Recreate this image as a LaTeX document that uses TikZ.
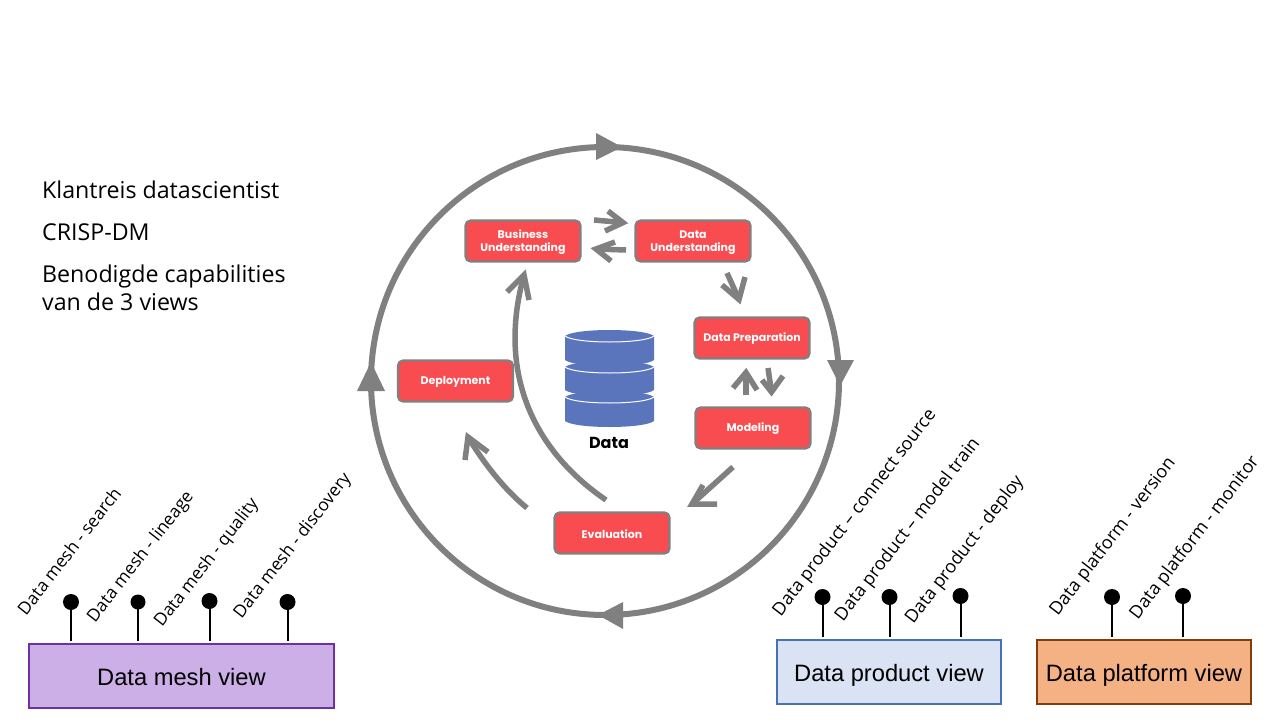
\documentclass[tikz,border=0pt]{standalone}
\usepackage{fontspec}
\setmainfont{Open Sans}
\newfontfamily\arialfont{Liberation Sans}
\newfontfamily\stepfont{Poppins}
\usetikzlibrary{arrows.meta,calc}
\definecolor{ringgray}{HTML}{808080}
\definecolor{redfill}{HTML}{F94C50}
\definecolor{dbblue}{HTML}{5B75BC}
\newcommand{\stepstrut}{\rule{0pt}{10.5pt}}
\tikzset{
  x=1pt,y=-1pt,
  stepbox/.style={draw=ringgray,line width=2.2pt,fill=redfill,rounded corners=5pt,minimum width=115pt,minimum height=41pt,inner sep=0pt,align=center,text=white,font=\stepfont\fontsize{11}{13}\selectfont\bfseries},
  flow/.style={draw=ringgray,line width=5.5pt,miter limit=10},
  ring/.style={draw=ringgray,line width=6pt},
  ringhead/.style={fill=ringgray,draw=none},
  capa/.style={rotate=52,font=\fontsize{17.4}{19}\selectfont,inner sep=0pt},
  capb/.style={rotate=52.5,font=\fontsize{18}{20}\selectfont,inner sep=0pt},
  pindot/.style={circle,fill=black,minimum size=16pt,inner sep=0pt},
  pinline/.style={draw=black,line width=2pt,shorten >=2pt},
  viewbox/.style={line width=1.5pt,inner sep=0pt,text height=20pt,text depth=1pt,font=\arialfont\fontsize{23.7}{28}\selectfont},
  note/.style={anchor=west,inner sep=0pt,align=left,font=\fontsize{23.2}{28}\selectfont},
  dblayer/.style={fill=dbblue,draw=none},
  dbline/.style={draw=white,line width=1pt},
}
\begin{document}
\begin{tikzpicture}
\useasboundingbox (0,0) rectangle (1280,720);
\fill[white] (0,0) rectangle (1280,720);
% notes
\node[note] (n1) at (42,190) {Klantreis datascientist};
\node[note] (n2) at (42,232) {CRISP-DM};
\node[note] (n3) at (42,288) {Benodigde capabilities\\van de 3 views};
% ring
\coordinate (ringc) at (605,381);
\draw[ring] (ringc) circle[radius=234];
\fill[ringhead] (622,147) -- (596,133) -- (596,160) -- cycle;
\fill[ringhead] (840,386) -- (827,360) -- (854,360) -- cycle;
\fill[ringhead] (598,615) -- (623,602) -- (623,629) -- cycle;
\fill[ringhead] (371,362) -- (357,391) -- (385,391) -- cycle;
% database
\foreach \t/\b in {336/360,367/390,397/421}{
  \fill[dblayer] (565,\t) -- (565,\b) .. controls (575,\b+8) and (644,\b+8) .. (654,\b) -- (654,\t) .. controls (644,\t-8) and (575,\t-8) .. (565,\t) -- cycle;
  \draw[dbline] (565,\t) .. controls (575,\t+8) and (644,\t+8) .. (654,\t);
}
\node[inner sep=0pt,font=\stepfont\fontsize{16}{18}\selectfont\bfseries] (dblabel) at (609,443) {Data};
% steps
\node[stepbox] (bu) at (523,241) {\stepstrut Business\\Understanding};
\node[stepbox] (du) at (693,241) {\stepstrut Data\\Understanding};
\node[stepbox] (dp) at (752,338) {\stepstrut Data Preparation};
\node[stepbox] (mo) at (753,428) {\stepstrut Modeling};
\node[stepbox] (ev) at (612,533) {\stepstrut Evaluation};
\node[stepbox] (de) at (455.5,381) {\stepstrut Deployment};
% flows: s = tail, v = head vertex, p and q = barb ends
\coordinate (a1s) at (594,220); \coordinate (a1v) at (623,222.6); \coordinate (a1p) at (608,211); \coordinate (a1q) at (605,231);
\coordinate (a2s) at (626,250); \coordinate (a2v) at (596,249); \coordinate (a2p) at (615,242); \coordinate (a2q) at (611,261);
\coordinate (a3s) at (727,273); \coordinate (a3v) at (739,299.5); \coordinate (a3p) at (722,285); \coordinate (a3q) at (745,277);
\coordinate (a4s) at (746,395); \coordinate (a4v) at (746,372.5); \coordinate (a4p) at (733,388); \coordinate (a4q) at (757,390);
\coordinate (a5s) at (768,368); \coordinate (a5v) at (771.5,392); \coordinate (a5p) at (762,380); \coordinate (a5q) at (783,376);
\coordinate (a6s) at (733,467); \coordinate (a6v) at (692,504); \coordinate (a6p) at (703,485); \coordinate (a6q) at (717,504);
\coordinate (a7s) at (527,508); \coordinate (a7v) at (468,437); \coordinate (a7p) at (465,460); \coordinate (a7q) at (488,452);
\coordinate (a8s) at (606,500); \coordinate (a8v) at (524,275); \coordinate (a8p) at (507,292); \coordinate (a8q) at (529,300);
\foreach \k in {a1,a2,a3,a4,a5,a6}{
  \draw[flow] (\k s) -- (\k v);
}
\draw[flow] (a7s) .. controls (505,490) and (485,465) .. (a7v);
\draw[flow] (a8s) .. controls (540,455) and (495,380) .. (a8v);
\foreach \k in {a1,a2,a3,a4,a5,a6,a7,a8}{
  \draw[flow] (\k p) -- (\k v) -- (\k q);
}
% view boxes
\node[viewbox,draw={rgb,255:red,112;green,48;blue,160},fill={rgb,255:red,205;green,175;blue,232},minimum width=305pt,minimum height=64pt] (mesh) at (181.5,676) {Data mesh view};
\node[viewbox,draw={rgb,255:red,68;green,114;blue,178},fill={rgb,255:red,218;green,227;blue,243},minimum width=224pt,minimum height=64pt] (prod) at (889,672) {Data product view};
\node[viewbox,draw={rgb,255:red,132;green,60;blue,12},fill={rgb,255:red,244;green,177;blue,131},minimum width=214pt,minimum height=64pt] (plat) at (1144,672) {Data platform view};
% pins
\node[pindot] (m1) at (71,602) {};
\node[pindot,minimum size=15pt] (m2) at (138,602) {};
\node[pindot] (m3) at (209.5,601) {};
\node[pindot] (m4) at (287.5,602) {};
\node[pindot] (p1) at (822.5,597) {};
\node[pindot] (p2) at (889.5,597) {};
\node[pindot] (p3) at (960.5,596) {};
\node[pindot] (f1) at (1112,597) {};
\node[pindot] (f2) at (1183,596) {};
\foreach \d in {m1,m2,m3,m4}{\draw[pinline] (\d.center) -- (\d.center |- mesh.north);}
\foreach \d in {p1,p2,p3}{\draw[pinline] (\d.center) -- (\d.center |- prod.north);}
\foreach \d in {f1,f2}{\draw[pinline] (\d.center) -- (\d.center |- plat.north);}
% labels
\node[capa] (l1) at (69,551) {Data mesh - search};
\node[capa] (l2) at (141,557) {Data mesh - lineage};
\node[capa] (l3) at (207,563) {Data mesh - quality};
\node[capa] (l4) at (293,546) {Data mesh - discovery};
\node[capb] (l5) at (855,513) {Data product – connect source};
\node[capb] (l6) at (908,530) {Data product – model train};
\node[capb] (l7) at (965,550) {Data product - deploy};
\node[capb] (l8) at (1113,537) {Data platform - version};
\node[capb] (l9) at (1195,538) {Data platform - monitor};
\end{tikzpicture}
\end{document}
